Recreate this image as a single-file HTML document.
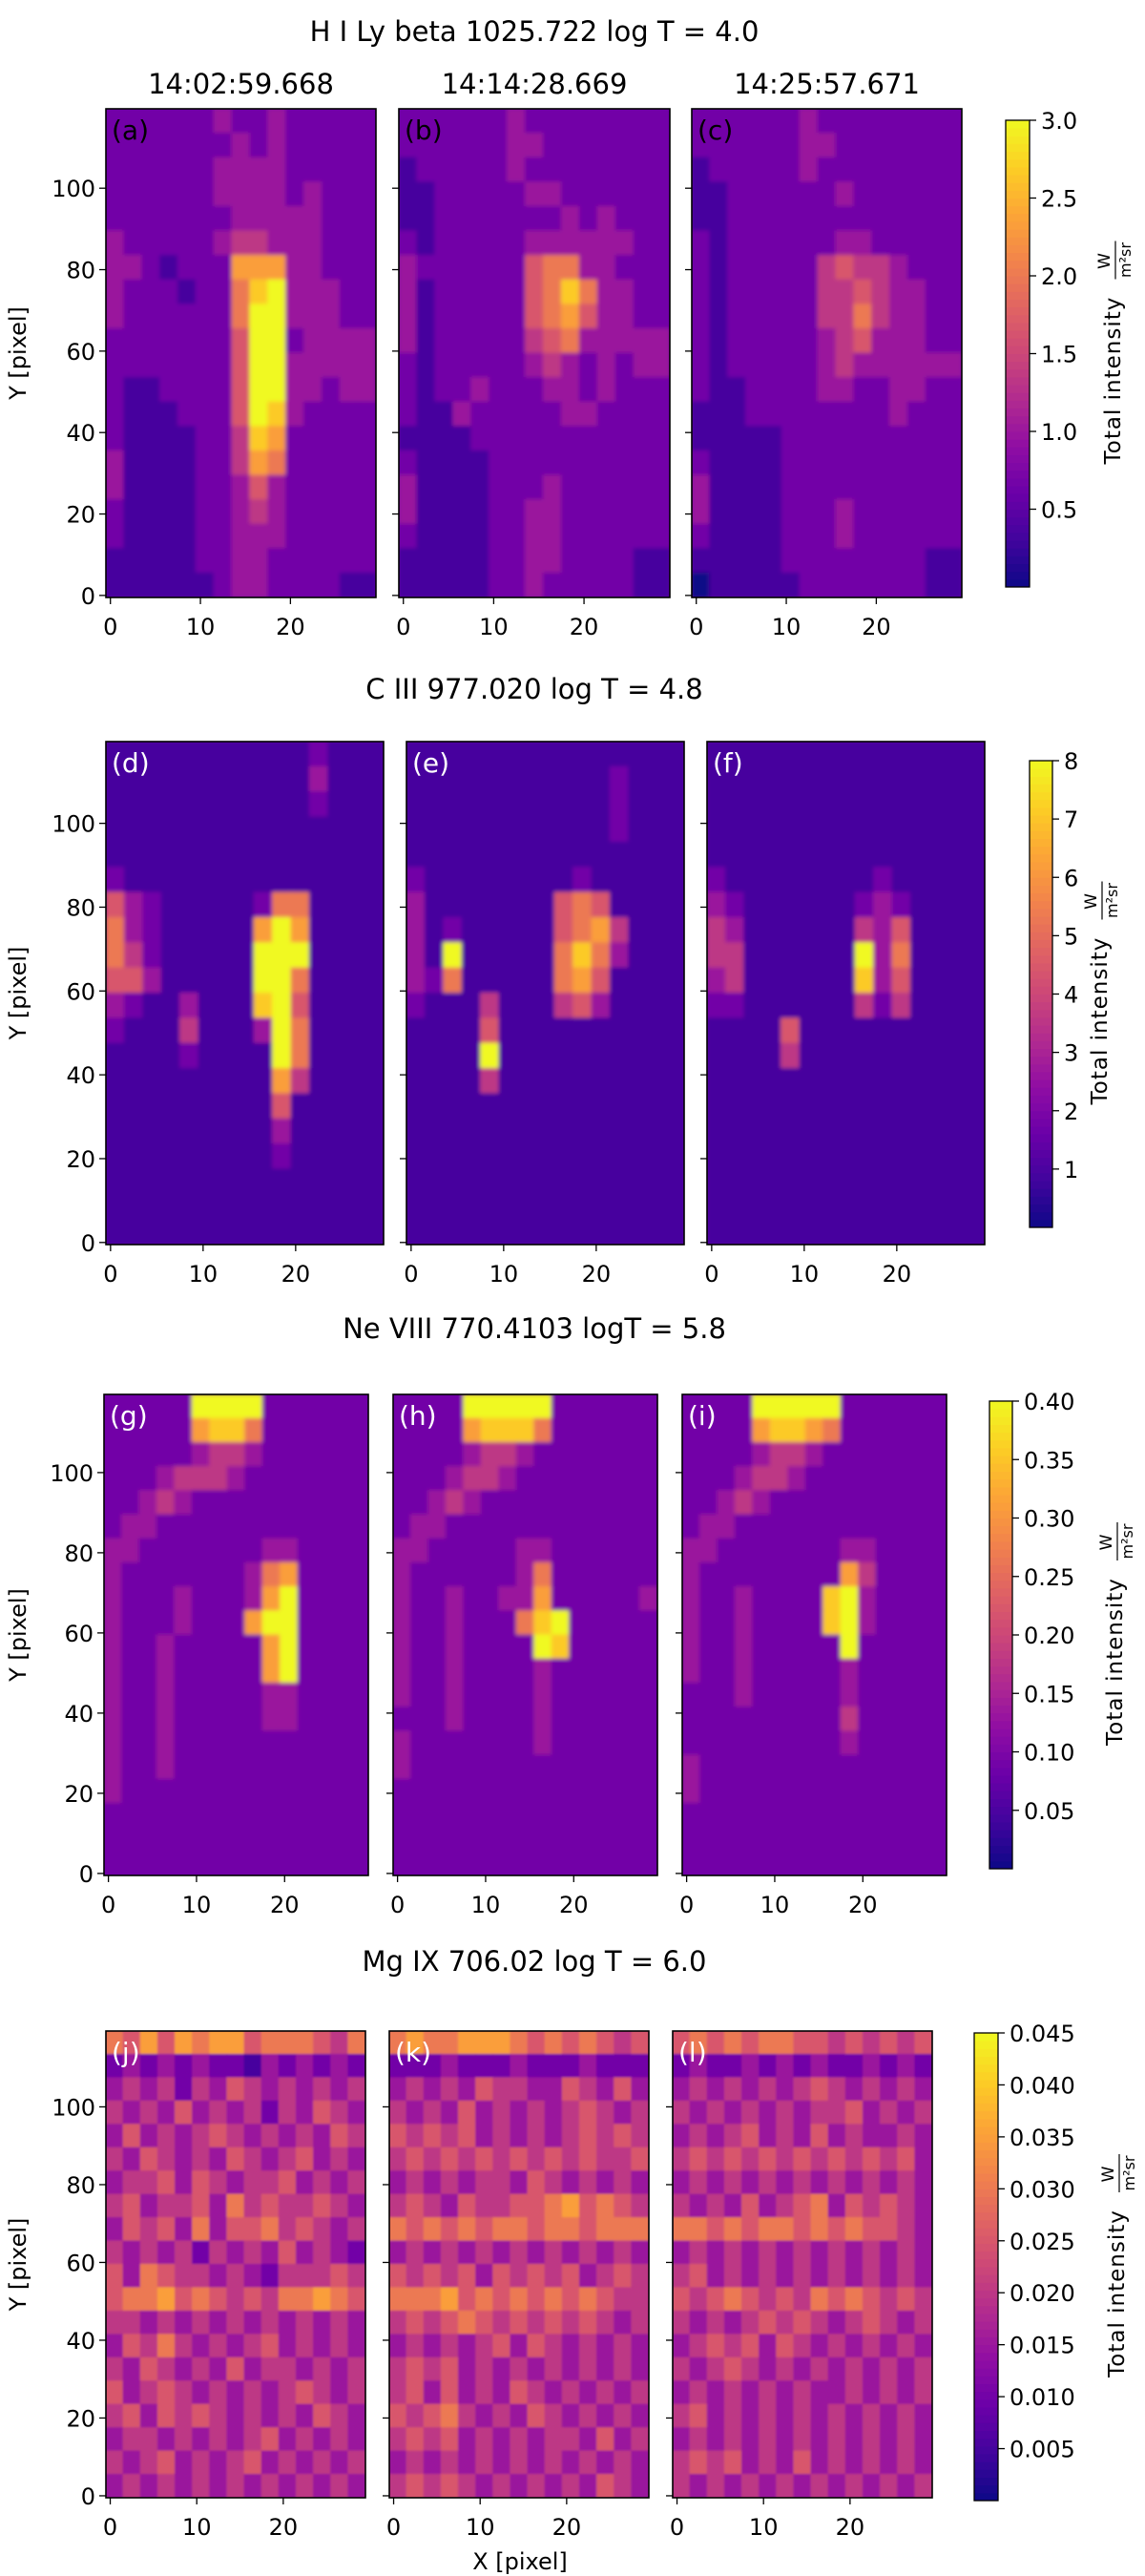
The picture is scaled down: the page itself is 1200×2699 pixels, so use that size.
<!DOCTYPE html>
<html><head><meta charset="utf-8"><title>Spectral line intensity maps</title>
<style>
html,body{margin:0;padding:0;background:#fff;}
svg{display:block;font-family:"DejaVu Sans","Liberation Sans",sans-serif;}
</style></head>
<body>
<svg id="fig" width="1200" height="2699" viewBox="0 0 1200 2699" xmlns="http://www.w3.org/2000/svg">
<defs>
<filter id="soft" x="-2%" y="-2%" width="104%" height="104%"><feGaussianBlur stdDeviation="2.2"/></filter>
<filter id="soft2" x="-2%" y="-2%" width="104%" height="104%"><feGaussianBlur stdDeviation="1"/></filter>
</defs>
</svg>
<script>
// ---- data: each panel is 20 rows (top y=120 -> bottom y=0) x 15 columns (2 px each), digit 0-9 = fraction of colormap ----
const xTicks = [0, 10, 20];
const yTicks = [0, 20, 40, 60, 80, 100];
const rowTitles = ["H I Ly beta 1025.722 log T = 4.0", "C III 977.020 log T = 4.8", "Ne VIII 770.4103 logT = 5.8", "Mg IX 706.02 log T = 6.0"];
const timeLabels = ["14:02:59.668", "14:14:28.669", "14:25:57.671"];
const panelLetters = ["(a)","(b)","(c)","(d)","(e)","(f)","(g)","(h)","(i)","(j)","(k)","(l)"];
const cbTicks1 = ["0.5","1.0","1.5","2.0","2.5","3.0"];
const cbTicks2 = ["1","2","3","4","5","6","7","8"];
const cbTicks3 = ["0.05","0.10","0.15","0.20","0.25","0.30","0.35","0.40"];
const cbTicks4 = ["0.005","0.010","0.015","0.020","0.025","0.030","0.035","0.040","0.045"];
const cbMax = [3, 8, 0.4, 0.045];

const panelA = ["222222322322222","222222232322222","222222333322222","222222333323222","222222233333222","322222344333222","332122277733222","322212268933322","322222269933322","222222259923333","222222259933333","211222259933233","211122259832222","211112248722222","311112247622222","311112235322222","211112234322222","211112233322222","111112233222222","111111233222211"];
const panelB = ["222222322222222","222222332222222","122222322222222","112222233222222","112222222323222","212222233333322","322222256633222","312222256863322","312222256753322","312222245633333","212222234323233","212232223323222","211322222332222","111122222222222","211112222222222","311112223222222","311112233222222","211112233222222","111112233222211","111112232222211"];
const panelC = ["222222322222222","222222332222222","122222322222222","112222223222222","112222222222222","212222223322222","212222245443222","212222244543322","212222244643322","212222234533322","212222234333333","211222233223322","111222222223222","111112222222222","211112222222222","311112222222222","311112223222222","211112223222222","111112222222211","011111222222211"];
const panelD = ["111111111112111","111111111113111","111111111112111","111111111111111","111111111111111","211111111111111","532111112661111","632111117971111","642111119991111","553111119961111","321131118951111","211141113961111","111121111961111","111111111741111","111111111511111","111111111311111","111111111211111","111111111111111","111111111111111","111111111111111"];
const panelE = ["111111111111111","111111111112111","111111111112111","111111111112111","111111111111111","211111111211111","311111115651111","312111115674111","319111116863111","326111116751111","211141114531111","111151111111111","111191111111111","111141111111111","111111111111111","111111111111111","111111111111111","111111111111111","111111111111111","111111111111111"];
const panelF = ["111111111111111","111111111111111","111111111111111","111111111111111","111111111111111","211111111211111","321111112321111","431111114351111","441111119361111","341111118351111","221111114241111","111151111111111","111141111111111","111111111111111","111111111111111","111111111111111","111111111111111","111111111111111","111111111111111","111111111111111"];
const panelG = ["222229999222222","222227886222222","222223443222222","222344432222222","223432222222222","233222222222222","332222222332222","322222223672222","322232223792222","322232227992222","322322222792222","322322222792222","322322222332222","322322222332222","322322222222222","322322222222222","322222222222222","222222222222222","222222222222222","222222222222222"];
const panelH = ["222299999222222","222278886222222","222234432222222","222344322222222","223432222222222","233222222222222","332222233222222","322222236222222","322322337222223","322322268922222","322322229822222","322322223222222","322322223222222","222322223222222","322222223222222","322222222222222","222222222222222","222222222222222","222222222222222","222222222222222"];
const panelI = ["222299999222222","222278876222222","222234432222222","222344322222222","223432222222222","233222222222222","332222222332222","322222222742222","322322228932222","322322228932222","322322222922222","322322222322222","222322222322222","222222222422222","222222222322222","322222222222222","322222222222222","222222222222222","222222222222222","222222222222222"];
const panelJ = ["657576775666546","232323221323232","343424354343434","434353434243543","353434543434354","435434354345343","344535434453434","453445364544543","354536355645434","434342434353432","536544343244454","566756545466765","443434343434343","354643434534343","435434353443434","534543434345434","453545434343543","344343434534343","434534345343434","343434343434343"];
const panelK = ["676677765656545","222322232223222","343435443354353","434353434345434","545453434345454","454545454545445","343434435434343","454354455675654","656565665665666","343434343434343","545453545453454","666756565656544","454565454545434","343434535434343","454534343434343","453534354343434","545643435434343","454534343443534","343434343434343","454543434343543"];
const panelL = ["565656655454545","232232323223232","343434345434343","434343434453434","343453435343343","454545454545453","343434343434343","434353456354543","665656656565543","343434343434343","453434343434343","545654546565454","434345454345434","345453543434343","434543434343434","343434343343434","453434343434343","343434343434343","454534353434343","434343434343434"];

const panelData = [panelA,panelB,panelC,panelD,panelE,panelF,panelG,panelH,panelI,panelJ,panelK,panelL];

// ---- layout ----
const rows = [
  {top:114, bot:626, panels:[[111,394],[418,702],[725,1008]], cb:[1054,1079,126,615], ticks:cbTicks1, titleY:33, dark:true, lx:1166},
  {top:777, bot:1304, panels:[[111,402],[426,717],[741,1032]], cb:[1079,1103,797,1286], ticks:cbTicks2, titleY:722, dark:false, lx:1152},
  {top:1461, bot:1965, panels:[[109,386],[412,689],[715,992]], cb:[1037,1061,1468,1958], ticks:cbTicks3, titleY:1392, dark:false, lx:1168},
  {top:2128, bot:2617, panels:[[111,383],[408,680],[705,977]], cb:[1021,1046,2130,2620], ticks:cbTicks4, titleY:2055, dark:false, lx:1170}
];

const stops = [[13,8,135],[65,4,157],[106,0,168],[143,13,164],[177,42,144],[204,71,120],[225,100,98],[242,132,75],[252,166,54],[252,206,37],[240,249,33]];
function plasma(t){
  t=Math.max(0,Math.min(1,t));
  const s=t*10, i=Math.min(9,Math.floor(s)), f=s-i;
  const a=stops[i], b=stops[i+1];
  return "rgb("+[0,1,2].map(k=>Math.round(a[k]+(b[k]-a[k])*f)).join(",")+")";
}
const NS="http://www.w3.org/2000/svg";
const svg=document.getElementById("fig");
function el(tag, attrs, parent){
  const e=document.createElementNS(NS,tag);
  for(const k in attrs) e.setAttribute(k,attrs[k]);
  (parent||svg).appendChild(e);
  return e;
}
function txt(s, attrs, parent){ const t=el("text",attrs,parent); t.textContent=s; return t; }

rows.forEach((R, ri)=>{
  const t=txt(rowTitles[ri], {x:560, y:R.titleY+10, "text-anchor":"middle", "font-size":29, fill:"#000"});
  
  
  R.panels.forEach((P, pi)=>{
    const idx=ri*3+pi, data=panelData[idx];
    const L=P[0], Rr=P[1];
    const xs=v=>L+(v+0.5)*(Rr-L)/30;
    const ys=v=>R.bot-(v+0.5)*(R.bot-R.top)/120;
    const g=el("g",{});
    
    
    const cid="clip"+idx;
    const cp=el("clipPath",{id:cid},g); el("rect",{x:L,y:R.top,width:Rr-L,height:R.bot-R.top},cp);
    const cg=el("g",{"clip-path":"url(#"+cid+")"},g);
    el("rect",{x:L,y:R.top,width:Rr-L,height:R.bot-R.top,fill:plasma(ri===3?0.42:0.2)},cg);
    const ig=el("g",{filter: ri===3?"url(#soft2)":"url(#soft)"},cg);
    const nr=data.length, rh=120/nr;
    data.forEach((row, r)=>{
      const nc=row.length, cw=30/nc;
      for(let c=0;c<nc;c++){
        const v=+row[c];
        const x0=xs(c*cw-0.5), x1=xs((c+1)*cw-0.5);
        const y1=ys(120-r*rh-0.5), y0=ys(120-(r+1)*rh-0.5);
        const cell=el("rect",{x:x0-0.5,y:y1-0.5,width:x1-x0+1,height:y0-y1+1,fill:plasma(v/9)},ig);
        
        
      }
    });
    const fr=el("rect",{x:L,y:R.top,width:Rr-L,height:R.bot-R.top,fill:"none",stroke:"#000","stroke-width":1.6},g);
    
    
    const lt=txt(panelLetters[idx],{x:L+6,y:R.top+32,"font-size":28,fill:R.dark?"#000":"#fff"},g);
    
    
    xTicks.forEach(v=>{
      el("line",{x1:xs(v),x2:xs(v),y1:R.bot,y2:R.bot+7,stroke:"#000","stroke-width":1.3},g);
      const tl=txt(String(v),{x:xs(v),y:R.bot+39,"text-anchor":"middle","font-size":24},g);
      
      
    });
    yTicks.forEach(v=>{
      el("line",{x1:L-7,x2:L,y1:ys(v),y2:ys(v),stroke:"#000","stroke-width":1.3},g);
      if(pi===0){
        const tl=txt(String(v),{x:L-11,y:ys(v)+9,"text-anchor":"end","font-size":24},g);
        
        
      }
    });
    if(ri===0){
      const st=txt(timeLabels[pi],{x:(L+Rr)/2,y:98,"text-anchor":"middle","font-size":29});
      
      
    }
  });
  const cy=(R.top+R.bot)/2;
  const yl=txt("Y [pixel]",{x:0,y:0,"text-anchor":"middle","font-size":24,transform:"translate(27,"+cy+") rotate(-90)"});
  
  
  const [cx0,cx1,cyT,cyB]=R.cb;
  const cbg=el("g",{});
  
  
  const N=60;
  for(let k=0;k<N;k++){
    const y=cyB-(k+1)*(cyB-cyT)/N;
    el("rect",{x:cx0,y:y-0.5,width:cx1-cx0,height:(cyB-cyT)/N+1,fill:plasma((k+0.5)/N)},cbg);
  }
  el("rect",{x:cx0,y:cyT,width:cx1-cx0,height:cyB-cyT,fill:"none",stroke:"#000","stroke-width":1.3},cbg);
  R.ticks.forEach(s=>{
    const y=cyB-(+s)/cbMax[ri]*(cyB-cyT);
    el("line",{x1:cx1,x2:cx1+7,y1:y,y2:y,stroke:"#000","stroke-width":1.3},cbg);
    const tl=txt(s,{x:cx1+12,y:y+9,"font-size":24},cbg);
    
    
  });
  const ccy=(cyT+cyB)/2;
  const lg=el("g",{transform:"translate("+R.lx+","+ccy+") rotate(-90)"});
  
  
  txt("Total intensity",{x:-28,y:8,"text-anchor":"middle","font-size":23,"letter-spacing":"1"},lg);
  txt("W",{x:97,y:-3,"text-anchor":"middle","font-size":17},lg);
  el("line",{x1:78,x2:118,y1:3,y2:3,stroke:"#000","stroke-width":1.2},lg);
  txt("m²sr",{x:98,y:19,"text-anchor":"middle","font-size":16},lg);
});
const xl=txt("X [pixel]",{x:545,y:2692,"text-anchor":"middle","font-size":24});


</script>
</body></html>
